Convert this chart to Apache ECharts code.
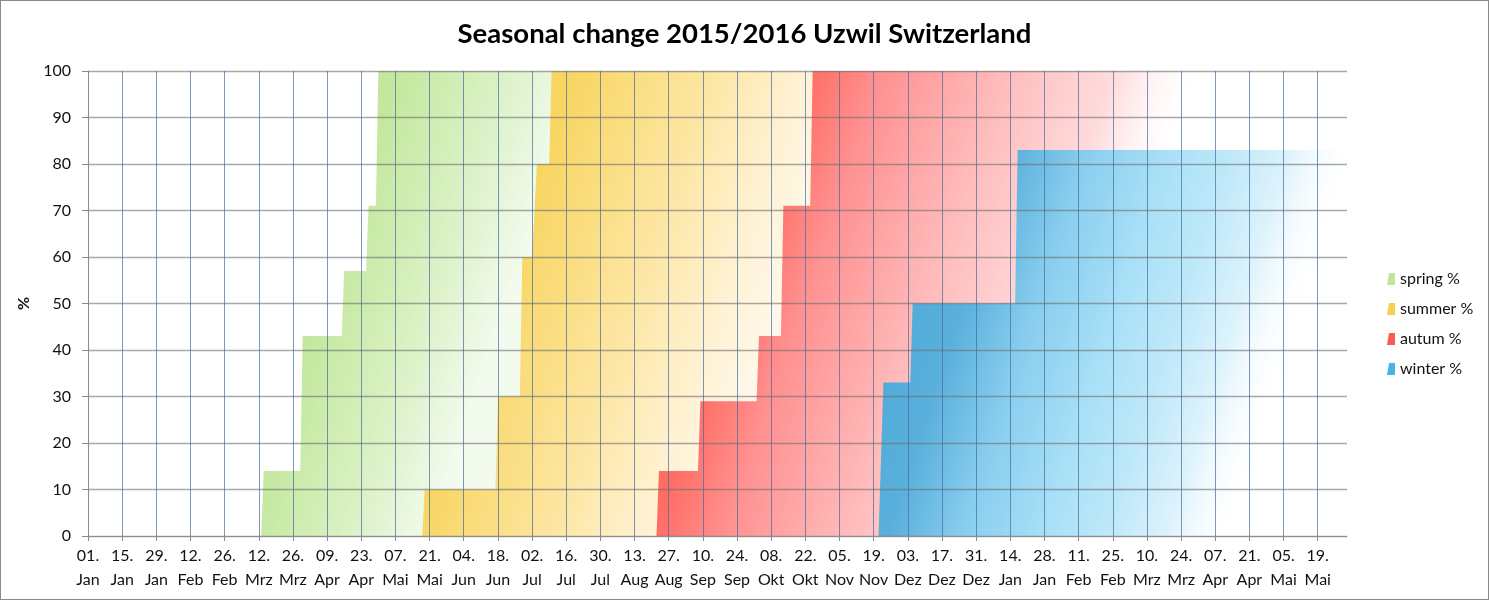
<!DOCTYPE html>
<html><head><meta charset="utf-8">
<script src="https://cdn.jsdelivr.net/npm/echarts@6/dist/echarts.min.js"></script>
<style>
html,body{margin:0;padding:0;background:#fff;}
#wrap{position:relative;width:1489px;height:600px;}
#chart{width:1489px;height:600px;}
#frame{position:absolute;left:0;top:0;width:1489px;height:600px;box-sizing:border-box;border:1px solid #8a8a8a;pointer-events:none;}
</style></head><body>
<div id="wrap"><div id="chart"></div><div id="frame"></div></div>
<script>
// ---- data ----
const axisStart = '2015-01-01';
const axisEnd = '2016-05-31';
const tickLabels = ['01.\nJan','15.\nJan','29.\nJan','12.\nFeb','26.\nFeb','12.\nMrz','26.\nMrz','09.\nApr','23.\nApr','07.\nMai','21.\nMai','04.\nJun','18.\nJun','02.\nJul','16.\nJul','30.\nJul','13.\nAug','27.\nAug','10.\nSep','24.\nSep','08.\nOkt','22.\nOkt','05.\nNov','19.\nNov','03.\nDez','17.\nDez','31.\nDez','14.\nJan','28.\nJan','11.\nFeb','25.\nFeb','10.\nMrz','24.\nMrz','07.\nApr','21.\nApr','05.\nMai','19.\nMai'];
const seriesNames = ['spring %','summer %','autum %','winter %'];
const spring = [['2015-03-13',0],['2015-03-14',14],['2015-03-29',14],['2015-03-30',43],['2015-04-15',43],['2015-04-16',57],['2015-04-25',57],['2015-04-26',71],['2015-04-29',71],['2015-04-30',100],['2015-07-10',100],['2015-07-11',0]];
const summer = [['2015-05-18',0],['2015-05-19',10],['2015-06-17',10],['2015-06-18',30],['2015-06-27',30],['2015-06-28',60],['2015-07-02',60],['2015-07-04',80],['2015-07-09',80],['2015-07-10',100],['2015-10-25',100],['2015-10-26',0]];
const autumn = [['2015-08-22',0],['2015-08-23',14],['2015-09-08',14],['2015-09-09',29],['2015-10-02',29],['2015-10-03',43],['2015-10-12',43],['2015-10-13',71],['2015-10-24',71],['2015-10-25',100],['2016-05-31',100]];
const winter = [['2015-11-21',0],['2015-11-23',33],['2015-12-04',33],['2015-12-05',50],['2016-01-16',50],['2016-01-17',83],['2016-05-31',83]];

// ---- helpers ----
function dayIndex(s){
  const p = s.split('-').map(Number);
  const a = axisStart.split('-').map(Number);
  return Math.round((Date.UTC(p[0],p[1]-1,p[2]) - Date.UTC(a[0],a[1]-1,a[2]))/86400000);
}
const toXY = arr => arr.map(d => [dayIndex(d[0]), d[1]]);
function grad(y2, stops){
  return new echarts.graphic.LinearGradient(0,0,1,y2, stops.map(s=>({offset:s[0],color:s[1]})));
}
const fills = [
  grad(0.21, [[0,'#b8e290'],[0.42,'#c3e89d'],[0.76,'#dcf2c8'],[0.9,'#e9f7df'],[1,'#f3fbee']]),
  grad(0.29, [[0,'#f5cd45'],[0.35,'#f8d663'],[0.66,'#fde6a3'],[0.87,'#fff2d4'],[1,'#fff8ea']]),
  grad(0.5,  [[0,'#ff5f50'],[0.2,'#ff6e64'],[0.29,'#ff9090'],[0.46,'#ffbdbd'],[0.6,'#ffdcdd'],[0.7,'rgba(255,240,240,0)'],[1,'rgba(255,255,255,0)']]),
  grad(0.39, [[0,'#45a4d7'],[0.26,'#5ab0dc'],[0.4,'#88cdee'],[0.57,'#aae1f7'],[0.68,'#bde8f9'],[0.8,'#def3fc'],[0.93,'rgba(255,255,255,0)'],[1,'rgba(255,255,255,0)']])
];
const legendColors = ['#bfe69a','#f6cf4f','#ff5a50','#45b4e8'];
const dataSets = [spring, summer, autumn, winter];
const FONT = 'Lato, Carlito, "Open Sans", sans-serif';

const chart = echarts.init(document.getElementById('chart'), null, {renderer:'canvas'});
chart.setOption({
  animation:false,
  backgroundColor:'#fff',
  title:{text:'Seasonal change 2015/2016 Uzwil Switzerland', left:'center', top:15,
    textStyle:{fontFamily:FONT, fontWeight:'bold', fontSize:27.5, color:'#000'}},
  legend:{orient:'vertical', left:1382, top:266, itemWidth:8, itemHeight:12, itemGap:14,
    icon:'path://M2,0 L8,0 L8,12 L0,12 Z',
    textStyle:{fontFamily:FONT, fontSize:16, color:'#111', padding:[0,0,0,0]},
    data: seriesNames.map((n,i)=>({name:n, itemStyle:{color:legendColors[i]}}))},
  grid:{left:88, right:142, top:71, bottom:64, containLabel:false},
  xAxis:{type:'value', min:0, max:dayIndex(axisEnd), interval:14, z:10,
    axisLine:{lineStyle:{color:'#8c8c8c', width:1}},
    axisTick:{show:true, length:5, lineStyle:{color:'#8c8c8c'}},
    splitLine:{show:true, showMaxLine:false, showMinLine:false, lineStyle:{color:'rgba(70,105,160,0.7)', width:1}},
    axisLabel:{showMaxLabel:false, margin:8, fontFamily:FONT, fontSize:16, color:'#111', lineHeight:24,
      formatter:v=>{const i=v/14; return (Number.isInteger(i)&&i<tickLabels.length)?tickLabels[i]:'';}}},
  yAxis:{type:'value', min:0, max:100, interval:10, z:10,
    name:'%', nameLocation:'middle', nameGap:48, nameRotate:90,
    nameTextStyle:{fontFamily:FONT, fontSize:16, fontWeight:'bold', color:'#111'},
    axisLine:{show:true, lineStyle:{color:'#8c8c8c', width:1}},
    axisTick:{show:true, length:6, lineStyle:{color:'#8c8c8c'}},
    splitLine:{show:true, lineStyle:{color:'rgba(110,110,110,0.6)', width:1.3}},
    axisLabel:{margin:17, fontFamily:FONT, fontSize:16, color:'#111'}},
  series: dataSets.map((d,i)=>({
    name:seriesNames[i], type:'line', data:toXY(d), showSymbol:false, symbol:'none',
    lineStyle:{width:0, opacity:0}, itemStyle:{color:legendColors[i]},
    areaStyle:{color:fills[i], opacity:1}, z:2+i
  }))
});
</script></body></html>
